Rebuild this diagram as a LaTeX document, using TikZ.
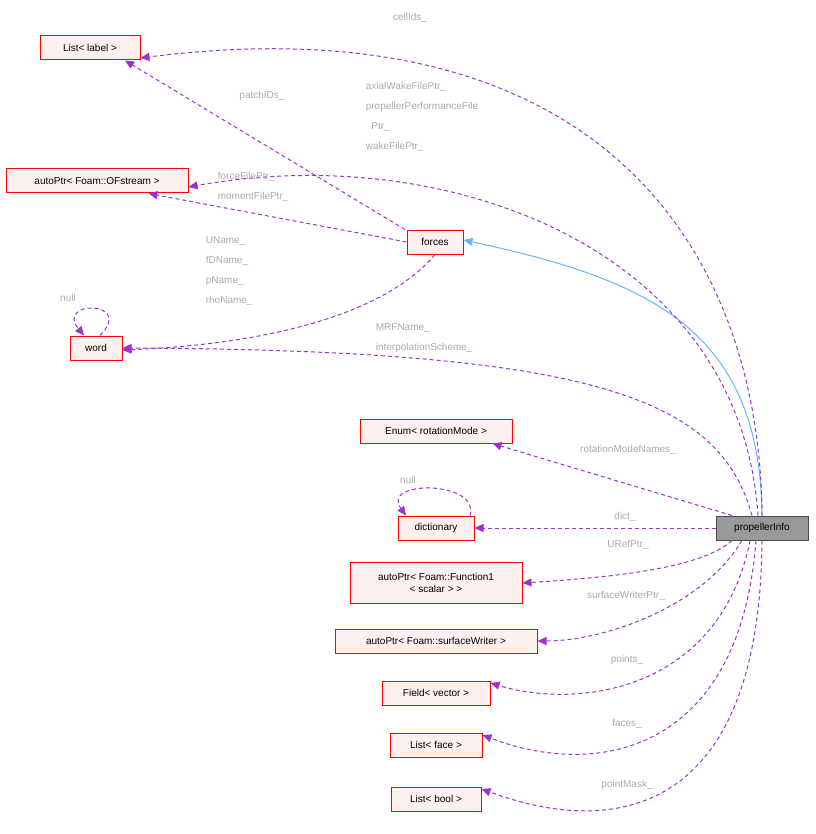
\documentclass[tikz,border=0pt]{standalone}
\usepackage{fontspec}
\setmainfont{Liberation Sans}
\usetikzlibrary{arrows.meta}
\definecolor{pur}{HTML}{9A32CD}
\definecolor{blu}{HTML}{63B8FF}
\definecolor{lbl}{HTML}{AAAAAA}
\begin{document}
\begin{tikzpicture}[x=1pt,y=-1pt,line width=1pt,
 box/.style={draw=red,fill=red!6,font=\fontsize{10}{12.5}\selectfont,inner sep=0pt,minimum height=24pt,align=center},
 dep/.style={pur,dashed,dash pattern=on 4pt off 3pt,-{Triangle[length=9pt,width=8pt]}},
 inh/.style={blu,-{Triangle[length=9pt,width=8pt]}},
 lab/.style={lbl,font=\fontsize{10}{20}\selectfont,align=left}]
\useasboundingbox (0,0) rectangle (815,834);
\node[box,minimum width=100pt] (ll) at (90,48) {List< label >};
\node[box,minimum width=182pt] (of) at (97,181) {autoPtr< Foam::OFstream >};
\node[box,minimum width=56pt] (fo) at (435,242) {forces};
\node[box,minimum width=52pt] (wo) at (96,348) {word};
\node[box,minimum width=152pt] (en) at (436,431) {Enum< rotationMode >};
\node[box,minimum width=76pt] (di) at (436,528) {dictionary};
\node[box,minimum width=172pt,minimum height=41pt] (fu) at (436,583) {autoPtr< Foam::Function1\\< scalar > >};
\node[box,minimum width=202pt] (sw) at (436,641) {autoPtr< Foam::surfaceWriter >};
\node[box,minimum width=108pt] (fv) at (436,693) {Field< vector >};
\node[box,minimum width=92pt] (lf) at (436,745) {List< face >};
\node[box,minimum width=90pt] (lb) at (436,799) {List< bool >};
\node[box,draw=black!70,fill=black!40,minimum width=92pt] (pi) at (762,528) {propellerInfo};
\draw[inh] (pi.north) .. controls (760,330) and (650,280) .. ([yshift=2pt]fo.east);
\draw[dep] (pi.north) .. controls (760,250) and (600,0) .. ([yshift=-10pt]ll.east);
\draw[dep] ([xshift=-4pt]pi.north) .. controls (740,250) and (450,140) .. ([yshift=-6pt]of.east);
\draw[dep] ([xshift=-10pt]pi.north) .. controls (720,400) and (600,350) .. (wo.east);
\draw[dep] ([xshift=-30pt]pi.north) -- ([xshift=-20pt]en.south east);
\draw[dep] (pi.west) -- (di.east);
\draw[dep] ([xshift=-30pt]pi.south) .. controls (700,570) and (600,578) .. (fu.east);
\draw[dep] ([xshift=-20pt]pi.south) .. controls (700,610) and (600,641) .. (sw.east);
\draw[dep] ([xshift=-12pt]pi.south) .. controls (720,690) and (580,710) .. ([yshift=10pt]fv.east);
\draw[dep] ([xshift=-6pt]pi.south) .. controls (740,750) and (600,780) .. ([yshift=10pt]lf.east);
\draw[dep] (pi.south) .. controls (760,810) and (620,840) .. ([yshift=10pt]lb.east);
\draw[dep] ([xshift=-30pt]fo.north) -- ([xshift=35pt]ll.south);
\draw[dep] (fo.west) -- ([xshift=-40pt]of.south east);
\draw[dep] (fo.south) .. controls (380,320) and (250,345) .. ([yshift=-2pt]wo.east);
\draw[dep] ([xshift=4pt]wo.north) .. controls (135,300) and (55,300) .. ([xshift=-12pt]wo.north);
\draw[dep] ([xshift=34pt]di.north) .. controls (480,480) and (380,480) .. ([xshift=-30pt]di.north);
\node[lab] (t1) at (410,18) {cellIds\_};
\node[lab,anchor=north west] (t2) at (362,78) {axialWakeFilePtr\_\\propellerPerformanceFile\\\ \ Ptr\_\\wakeFilePtr\_};
\node[lab] (t3) at (262,96) {patchIDs\_};
\node[lab,anchor=north west] (t4) at (214,168) {forceFilePtr\_\\momentFilePtr\_};
\node[lab,anchor=north west] (t5) at (202,233) {UName\_\\fDName\_\\pName\_\\rhoName\_};
\node[lab,anchor=north west] (t6) at (372,320) {MRFName\_\\interpolationScheme\_};
\node[lab] (t7) at (68,298) {null};
\node[lab] (t8) at (408,480) {null};
\node[lab] (t9) at (628,450) {rotationModeNames\_};
\node[lab] (t10) at (625,517) {dict\_};
\node[lab] (t11) at (628,545) {URefPtr\_};
\node[lab] (t12) at (626,596) {surfaceWriterPtr\_};
\node[lab] (t13) at (627,660) {points\_};
\node[lab] (t14) at (627,724) {faces\_};
\node[lab] (t15) at (627,785) {pointMask\_};
\end{tikzpicture}
\end{document}
